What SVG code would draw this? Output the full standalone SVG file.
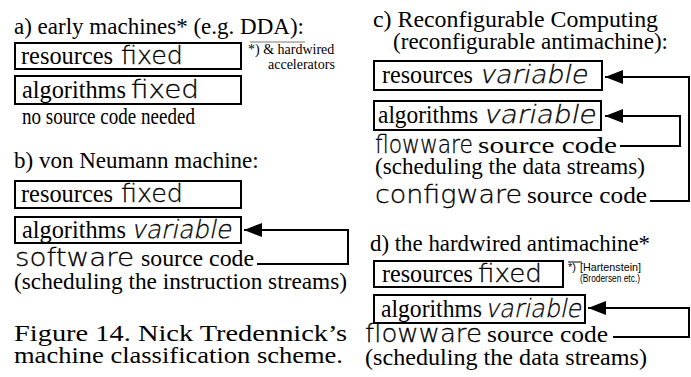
<svg xmlns="http://www.w3.org/2000/svg" width="691" height="377" viewBox="0 0 691 377">
<style>
.s{font-family:"Liberation Serif","Times New Roman",serif;font-size:23px;fill:#000}
.b{font-family:"Liberation Serif","Times New Roman",serif;font-size:24.5px;fill:#000}
.g{font-family:"DejaVu Sans",sans-serif;font-weight:200;font-size:25px;fill:#000;stroke:#000;stroke-width:0.3}
.box{fill:#fff;stroke:#000;stroke-width:2}
.con{fill:none;stroke:#000;stroke-width:2}
.sm{font-family:"Liberation Serif",serif;font-size:14px}
.hs{font-family:"Liberation Sans",Arial,sans-serif;font-size:11px}
</style>
<defs>
<marker id="ah" markerUnits="userSpaceOnUse" markerWidth="18" markerHeight="14" refX="18" refY="7" orient="auto">
<path d="M0,0 L18,7 L0,14 z" fill="#000"/>
</marker>
</defs>
<rect width="691" height="377" fill="#fff"/>
<g id="connectors">
<path class="con" d="M257,264 H348 V230 H244" marker-end="url(#ah)"/>
<path class="con" d="M650,201 H689 V77 H605" marker-end="url(#ah)"/>
<path class="con" d="M620,146 H680 V116 H605" marker-end="url(#ah)"/>
<path class="con" d="M613,337 H689 V308 H588" marker-end="url(#ah)"/>
</g>
<g id="panel-a">
<text class="s" x="14" y="34">a) early machines* (e.g. DDA):</text>
<line x1="250" y1="42" x2="305" y2="42" stroke="#777" stroke-width="1"/>
<text class="sm" x="248" y="54">*) &amp; hardwired</text>
<text class="sm" x="268" y="69">accelerators</text>
<g id="a-resources"><rect class="box" x="15" y="43" width="226" height="26"/>
<text class="b" x="21" y="64" textLength="92" lengthAdjust="spacingAndGlyphs">resources</text>
<text class="g" x="121" y="64" textLength="62" lengthAdjust="spacingAndGlyphs">fixed</text></g>
<g id="a-algorithms"><rect class="box" x="15" y="76" width="226" height="28"/>
<text class="b" x="22" y="98" textLength="104" lengthAdjust="spacingAndGlyphs">algorithms</text>
<text class="g" x="131" y="98" textLength="68" lengthAdjust="spacingAndGlyphs">fixed</text></g>
<text class="s" x="22" y="124" textLength="173" lengthAdjust="spacingAndGlyphs">no source code needed</text>
</g>
<g id="panel-b">
<text class="s" x="14" y="168">b) von Neumann machine:</text>
<g id="b-resources"><rect class="box" x="15" y="181" width="226" height="27"/>
<text class="b" x="21" y="202" textLength="92" lengthAdjust="spacingAndGlyphs">resources</text>
<text class="g" x="121" y="202" textLength="62" lengthAdjust="spacingAndGlyphs">fixed</text></g>
<g id="b-algorithms"><rect class="box" x="15" y="217" width="226" height="26"/>
<text class="b" x="22" y="238" textLength="104" lengthAdjust="spacingAndGlyphs">algorithms</text>
<text class="g" transform="translate(131,238) skewX(-12)" x="0" y="0" textLength="100" lengthAdjust="spacingAndGlyphs">variable</text></g>
<g id="b-software">
<text class="g" x="15" y="266" textLength="119" lengthAdjust="spacingAndGlyphs">software</text>
<text class="s" x="141" y="266" textLength="113" lengthAdjust="spacingAndGlyphs">source code</text></g>
<text class="s" x="14" y="289" textLength="333" lengthAdjust="spacingAndGlyphs">(scheduling the instruction streams)</text>
<text class="s" x="14" y="341" font-size="28" textLength="333" lengthAdjust="spacingAndGlyphs">Figure 14. Nick Tredennick’s</text>
<text class="s" x="14" y="363" font-size="28" textLength="329" lengthAdjust="spacingAndGlyphs">machine classification scheme.</text>
</g>
<g id="panel-c">
<text class="s" x="373" y="27" textLength="285" lengthAdjust="spacingAndGlyphs">c) Reconfigurable Computing</text>
<text class="s" x="393" y="49" textLength="275" lengthAdjust="spacingAndGlyphs">(reconfigurable antimachine):</text>
<g id="c-resources"><rect class="box" x="374" y="61" width="228" height="29"/>
<text class="b" x="382" y="83" textLength="91" lengthAdjust="spacingAndGlyphs">resources</text>
<text class="g" transform="translate(479,83) skewX(-12)" x="0" y="0" textLength="108" lengthAdjust="spacingAndGlyphs">variable</text></g>
<g id="c-algorithms"><rect class="box" x="374" y="101" width="227" height="29"/>
<text class="b" x="378" y="123" textLength="100" lengthAdjust="spacingAndGlyphs">algorithms</text>
<text class="g" transform="translate(483,123) skewX(-12)" x="0" y="0" textLength="112" lengthAdjust="spacingAndGlyphs">variable</text></g>
<g id="c-flowware">
<text class="g" x="375" y="153" textLength="98" lengthAdjust="spacingAndGlyphs">flowware</text>
<text class="s" x="478" y="153" textLength="139" lengthAdjust="spacingAndGlyphs">source code</text></g>
<text class="s" x="375" y="174" textLength="270" lengthAdjust="spacingAndGlyphs">(scheduling the data streams)</text>
<g id="c-configware">
<text class="g" x="375" y="203" font-size="26" textLength="147" lengthAdjust="spacingAndGlyphs">configware</text>
<text class="s" x="527" y="203" textLength="120" lengthAdjust="spacingAndGlyphs">source code</text></g>
</g>
<g id="panel-d">
<text class="s" x="370" y="251" textLength="280" lengthAdjust="spacingAndGlyphs">d) the hardwired antimachine*</text>
<g id="d-resources"><rect class="box" x="374" y="261" width="189" height="26"/>
<text class="b" x="382" y="282" textLength="91" lengthAdjust="spacingAndGlyphs">resources</text>
<text class="g" x="478" y="282" textLength="64" lengthAdjust="spacingAndGlyphs">fixed</text></g>
<line x1="568" y1="262" x2="582" y2="262" stroke="#000" stroke-width="1"/>
<text class="hs" x="568" y="271" font-size="9">*)</text>
<text class="hs" x="580" y="271" textLength="61" lengthAdjust="spacingAndGlyphs">[Hartenstein]</text>
<text class="hs" x="580" y="282" textLength="60" lengthAdjust="spacingAndGlyphs">(Brodersen etc.)</text>
<g id="d-algorithms"><rect class="box" x="374" y="295" width="211" height="28"/>
<text class="b" x="381" y="317" textLength="101" lengthAdjust="spacingAndGlyphs">algorithms</text>
<text class="g" transform="translate(485,317) skewX(-12)" x="0" y="0" textLength="96" lengthAdjust="spacingAndGlyphs">variable</text></g>
<g id="d-flowware">
<text class="g" x="365" y="342" font-size="26" textLength="117" lengthAdjust="spacingAndGlyphs">flowware</text>
<text class="s" x="487" y="342" textLength="121" lengthAdjust="spacingAndGlyphs">source code</text></g>
<text class="s" x="365" y="365" textLength="282" lengthAdjust="spacingAndGlyphs">(scheduling the data streams)</text>
</g>
</svg>
